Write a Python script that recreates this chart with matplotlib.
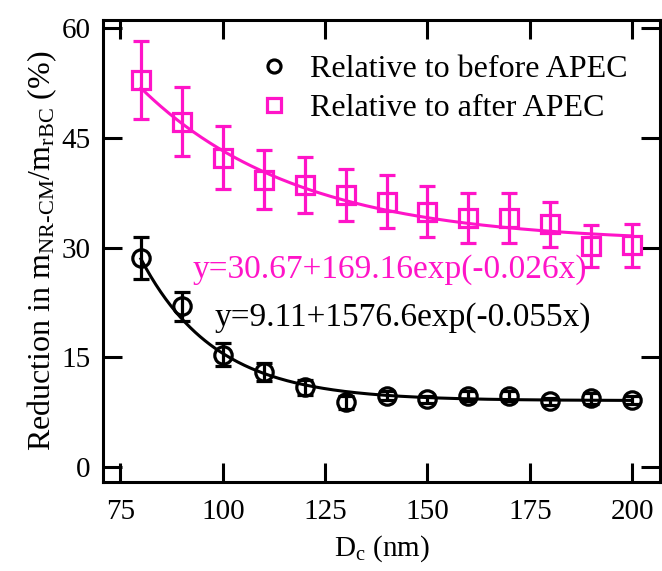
import numpy as np
import matplotlib
matplotlib.use("Agg")
import matplotlib.pyplot as plt

plt.rcParams['font.family'] = ['Liberation Serif', 'DejaVu Serif']
plt.rcParams['mathtext.fontset'] = 'custom'
plt.rcParams['mathtext.rm'] = 'Liberation Serif'
plt.rcParams['mathtext.it'] = 'Liberation Serif:italic'

# Data
dc = [80, 90, 100, 110, 120, 130, 140, 150, 160, 170, 180, 190, 200]
after_vals = [52.9, 47.2, 42.3, 39.3, 38.6, 37.2, 36.3, 34.9, 34.1, 34.1, 33.2, 30.2, 30.3]
after_err = [5.3, 4.7, 4.3, 4.0, 3.8, 3.6, 3.6, 3.5, 3.4, 3.4, 3.1, 2.9, 3.0]
before_vals = [28.6, 22.0, 15.4, 13.0, 10.9, 8.9, 9.8, 9.3, 9.7, 9.7, 9.0, 9.4, 9.2]
before_err = [2.9, 2.0, 1.6, 1.2, 1.0, 0.9, 0.6, 0.5, 0.7, 0.7, 0.5, 0.7, 0.6]

# fit parameters (as printed on the chart)
fit_after = (30.67, 169.16, -0.026)
fit_before = (9.11, 1576.6, -0.055)

xticks = [75, 100, 125, 150, 175, 200]
yticks = [0, 15, 30, 45, 60]

mag = '#ff14c8'

fig = plt.figure(figsize=(6.62, 5.71), dpi=100)
ax = fig.add_axes([0.156, 0.156, 0.841, 0.809])

xf = np.linspace(80, 200, 300)
ax.plot(xf, fit_after[0] + fit_after[1] * np.exp(fit_after[2] * xf), color=mag, lw=2.2, zorder=2)
ax.plot(xf, fit_before[0] + fit_before[1] * np.exp(fit_before[2] * xf), color='black', lw=2.2, zorder=2)

ax.errorbar(dc, before_vals, yerr=before_err, fmt='o', mfc='none', mec='black', ecolor='black',
            ms=12.5, mew=2.3, elinewidth=2.3, capsize=5.5, capthick=2.3, label='Relative to before APEC', zorder=3)
ax.errorbar(dc, after_vals, yerr=after_err, fmt='s', mfc='none', mec=mag, ecolor=mag,
            ms=13, mew=2.3, elinewidth=2.3, capsize=5.5, capthick=2.3, label='Relative to after APEC', zorder=3)

ax.set_xlim(70.8, 206.8)
ax.set_ylim(-2.0, 61.1)
ax.set_xticks(xticks)
ax.set_yticks(yticks)
ax.tick_params(direction='in', length=14, width=2.2, top=True, right=True, labelsize=21)
ax.tick_params(axis='x', pad=12)
ax.tick_params(axis='y', pad=9)
for s in ax.spines.values():
    s.set_linewidth(2.2)

ax.set_xlabel('D$_\\mathrm{c}$ (nm)', fontsize=21, labelpad=6)
ax.set_ylabel('Reduction in m$_\\mathrm{NR\\text{-}CM}$/m$_\\mathrm{rBC}$ (%)', fontsize=23, labelpad=2)

handles, labels = ax.get_legend_handles_labels()
hs = [h[0] for h in handles]
ax.legend(hs, labels, loc='upper left', bbox_to_anchor=(0.257, 0.952), frameon=False, fontsize=23,
          handlelength=0.9, handletextpad=0.7, labelspacing=0.3, borderaxespad=0, markerscale=0.75)

ax.annotate('y=30.67+169.16exp(-0.026x)', xy=(193 / 662, 1 - 270 / 571), xycoords='figure fraction',
            color=mag, fontsize=24, va='center', ha='left')
ax.annotate('y=9.11+1576.6exp(-0.055x)', xy=(215 / 662, 1 - 318 / 571), xycoords='figure fraction',
            color='black', fontsize=24, va='center', ha='left')

fig.savefig('out.png', dpi=100)
